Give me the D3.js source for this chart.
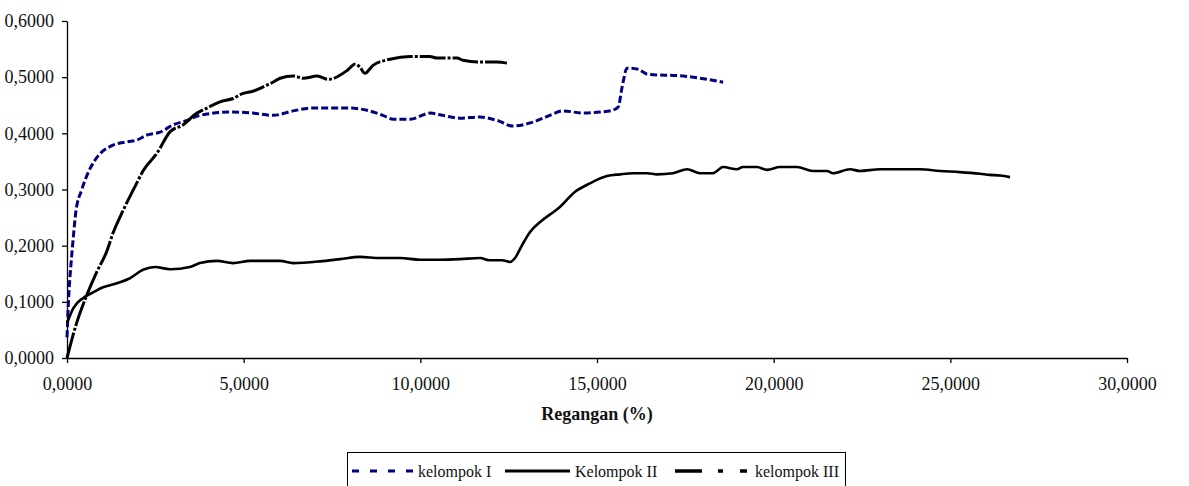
<!DOCTYPE html>
<html>
<head>
<meta charset="utf-8">
<script src="https://cdn.jsdelivr.net/npm/d3@7"></script>
<style>
  html, body { margin: 0; padding: 0; background: #fff; }
  svg { display: block; font-family: "Liberation Serif", "Times New Roman", serif; }
</style>
</head>
<body>
<svg id="chart" width="1189" height="486"></svg>
<script>
// strain (%) and stress values
const strainI = [0, 0.04, 0.13, 0.18, 0.25, 0.42, 0.57, 0.79, 1.30, 1.70, 1.98, 2.26, 2.63, 3.0, 3.4, 3.76, 4.70, 5.26, 5.83, 6.40, 6.96, 8.01, 8.49, 8.94, 9.23, 9.71, 10.28, 10.64, 11.12, 11.69, 12.17, 12.62, 13.19, 13.67, 14.04, 14.61, 15.09, 15.43, 15.60, 15.71, 15.85, 16.16, 16.44, 17.44, 18.57];
const stressI = [0.037, 0.098, 0.18, 0.216, 0.26, 0.30, 0.326, 0.352, 0.379, 0.385, 0.388, 0.397, 0.402, 0.415, 0.423, 0.432, 0.438, 0.436, 0.432, 0.44, 0.445, 0.445, 0.441, 0.432, 0.425, 0.425, 0.436, 0.432, 0.427, 0.429, 0.423, 0.413, 0.42, 0.432, 0.44, 0.436, 0.438, 0.441, 0.447, 0.482, 0.516, 0.514, 0.505, 0.502, 0.491];

const strainII = [0, 0.18, 0.46, 0.74, 1.02, 1.41, 1.78, 2.15, 2.49, 2.92, 3.48, 3.76, 4.25, 4.70, 5.18, 6.03, 6.40, 7.16, 7.73, 8.29, 8.86, 9.43, 9.99, 10.56, 11.12, 11.69, 11.97, 12.31, 12.54, 12.68, 12.88, 13.1, 13.39, 13.95, 14.38, 14.80, 15.28, 15.65, 16.02, 16.42, 16.70, 17.15, 17.55, 17.92, 18.28, 18.57, 18.96, 19.13, 19.53, 19.81, 20.18, 20.66, 21.11, 21.51, 21.68, 22.16, 22.44, 23.01, 23.58, 24.14, 24.71, 25.27, 25.84, 26.12, 26.41, 26.69];
const stressII = [0.062, 0.089, 0.107, 0.117, 0.126, 0.133, 0.142, 0.157, 0.162, 0.158, 0.162, 0.169, 0.173, 0.169, 0.173, 0.173, 0.169, 0.172, 0.176, 0.18, 0.178, 0.178, 0.175, 0.175, 0.176, 0.178, 0.174, 0.174, 0.171, 0.178, 0.201, 0.224, 0.242, 0.269, 0.296, 0.311, 0.324, 0.327, 0.329, 0.329, 0.327, 0.329, 0.336, 0.329, 0.329, 0.34, 0.336, 0.34, 0.34, 0.335, 0.34, 0.34, 0.333, 0.333, 0.329, 0.336, 0.333, 0.336, 0.336, 0.336, 0.333, 0.331, 0.328, 0.326, 0.325, 0.322];

const strainIII = [0, 0.27, 0.56, 0.84, 1.12, 1.30, 1.59, 1.97, 2.15, 2.55, 2.92, 3.28, 3.68, 3.96, 4.33, 4.70, 4.98, 5.26, 5.66, 5.83, 6.03, 6.40, 6.68, 7.08, 7.39, 7.93, 8.15, 8.29, 8.43, 8.66, 9.14, 9.71, 10.27, 10.47, 11.04, 11.21, 11.69, 12.17, 12.45];
const stressIII = [0, 0.062, 0.112, 0.153, 0.189, 0.222, 0.263, 0.311, 0.333, 0.365, 0.403, 0.415, 0.436, 0.445, 0.456, 0.462, 0.471, 0.475, 0.486, 0.491, 0.498, 0.502, 0.498, 0.502, 0.496, 0.512, 0.523, 0.518, 0.507, 0.521, 0.532, 0.537, 0.537, 0.534, 0.534, 0.530, 0.527, 0.527, 0.525];

const seriesNames = ["kelompok I", "Kelompok II", "kelompok III"];
const xTicks = [0, 5, 10, 15, 20, 25, 30];
const yTicks = [0, 0.1, 0.2, 0.3, 0.4, 0.5, 0.6];

const svg = d3.select("#chart");
const margin = { top: 21, left: 67, right: 62, bottom: 128 };
const width = 1189, height = 486;

const x = d3.scaleLinear().domain([0, 30]).range([margin.left, width - margin.right]);
const y = d3.scaleLinear().domain([0, 0.6]).range([height - margin.bottom, margin.top]);

const comma = v => d3.format(".4f")(v).replace(".", ",");

// axes (d3 puts sans-serif on the group, drop it so the serif from css applies)
const gx = svg.append("g")
  .attr("transform", `translate(0,${y(0)})`)
  .call(d3.axisBottom(x).tickValues(xTicks).tickSize(5).tickSizeOuter(0).tickFormat(comma))
  .attr("font-family", null).attr("font-size", 18);
gx.selectAll("text").attr("y", 19).attr("fill", "#111");

const gy = svg.append("g")
  .attr("transform", `translate(${x(0)},0)`)
  .call(d3.axisLeft(y).tickValues(yTicks).tickSize(5).tickSizeOuter(0).tickFormat(comma))
  .attr("font-family", null).attr("font-size", 18);
gy.selectAll("text").attr("x", -13).attr("fill", "#111");

svg.selectAll(".domain, .tick line").attr("stroke", "#000").attr("stroke-width", 1.3);

svg.append("text")
  .attr("x", 597).attr("y", 420)
  .attr("text-anchor", "middle")
  .attr("font-size", 18).attr("font-weight", "bold").attr("fill", "#111")
  .text("Regangan (%)");

// lines
const line = d3.line().x(d => x(d[0])).y(d => y(d[1])).curve(d3.curveMonotoneX);
const zip = (a, b) => a.map((v, i) => [v, b[i]]);

const styles = [
  { data: zip(strainI, stressI), stroke: "#000080", width: 3, dash: "7,3" },
  { data: zip(strainII, stressII), stroke: "#000", width: 2.6, dash: null },
  { data: zip(strainIII, stressIII), stroke: "#000", width: 3, dash: "26,2,3,2" }
];

styles.forEach(s => {
  svg.append("path")
    .datum(s.data)
    .attr("fill", "none")
    .attr("stroke", s.stroke)
    .attr("stroke-width", s.width)
    .attr("stroke-dasharray", s.dash)
    .attr("stroke-linejoin", "round")
    .attr("d", line);
});

// legend
const lg = svg.append("g");
lg.append("rect")
  .attr("x", 347.5).attr("y", 452.5).attr("width", 498).attr("height", 45)
  .attr("fill", "none").attr("stroke", "#000").attr("stroke-width", 1);

const legendItems = [
  { x1: 352, x2: 413, tx: 418, stroke: "#000080", width: 3, dash: "7,11" },
  { x1: 505, x2: 570, tx: 575, stroke: "#000", width: 3, dash: null },
  { x1: 675, x2: 747, tx: 755, stroke: "#000", width: 3.5, dash: "27,16,5,17,7" }
];
legendItems.forEach((it, i) => {
  lg.append("line")
    .attr("x1", it.x1).attr("x2", it.x2).attr("y1", 471).attr("y2", 471)
    .attr("stroke", it.stroke).attr("stroke-width", it.width)
    .attr("stroke-dasharray", it.dash);
  lg.append("text")
    .attr("x", it.tx).attr("y", 477)
    .attr("font-size", 16).attr("fill", "#111")
    .text(seriesNames[i]);
});
</script>
</body>
</html>
